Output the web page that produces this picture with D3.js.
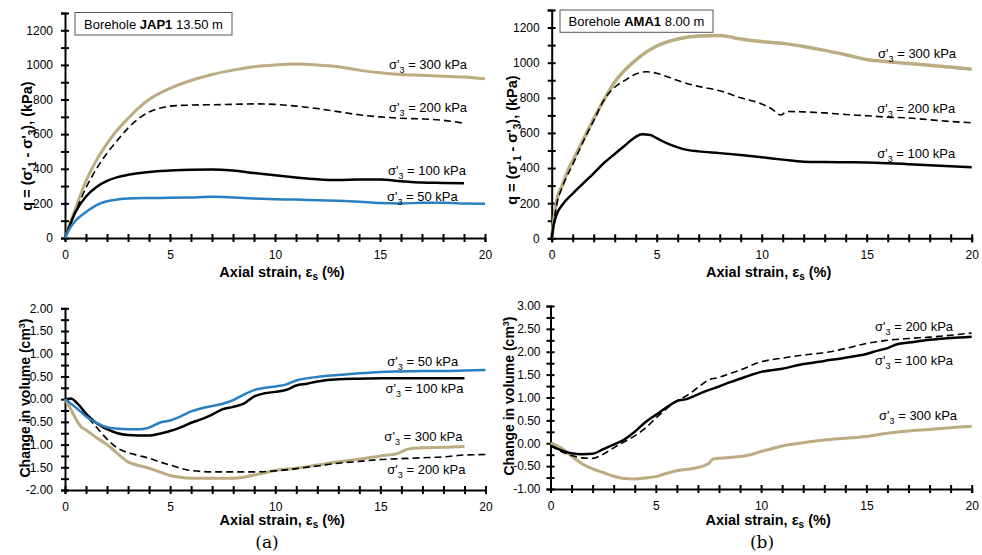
<!DOCTYPE html>
<meta charset="utf-8">
<style>
body { margin: 0; background: #fff; }
svg { font-family: "Liberation Sans", Arial, sans-serif; }
.axis path, .axis line { stroke: #000; stroke-width: 2; fill: none; }
.axis text { font-size: 12px; fill: #000; }
.ann { font-size: 13px; fill: #000; }
.title { font-size: 14.5px; font-weight: bold; fill: #000; }
</style>
<body>
<script src="https://d3js.org/d3.v7.min.js"></script>
<script>

var width = 982, height = 555;
var tan = '#bbac82', blue = '#2a7fc0';

// strain (%) vs deviator stress q (kPa), borehole JAP1
var jap1Q300 = [[0,0],[0.5,170],[1,330],[1.5,450],[2,545],[2.5,625],[3,690],[3.5,750],[4,800],[5,865],[6,910],[7,945],[8,970],[9,990],[10,1000],[11,1005],[12,1000],[13,990],[14,970],[15,955],[16,945],[17,940],[18,935],[19,930],[20,920]];
var jap1Q200 = [[0,0],[0.5,150],[1,290],[1.5,400],[2,490],[2.5,565],[3,635],[3.5,690],[4,728],[4.5,750],[5,762],[6,768],[7,770],[8,772],[9,775],[10,772],[11,762],[12,748],[13,730],[14,712],[15,700],[16,692],[17,688],[18,680],[19,663]];
var jap1Q100 = [[0,0],[0.25,80],[0.5,150],[1,240],[1.5,295],[2,330],[2.5,352],[3,365],[4,382],[5,390],[6,395],[7,396],[8,390],[9,375],[10,362],[11,350],[12,340],[13,335],[14,338],[15,338],[16,328],[17,320],[18,318],[19,316]];
var jap1Q50 = [[0,0],[0.25,60],[0.5,100],[1,150],[1.5,190],[2,212],[2.5,222],[3,228],[4,231],[5,232],[6,234],[7,238],[8,234],[9,228],[10,224],[11,222],[12,218],[13,215],[14,210],[15,202],[16,200],[17,203],[18,203],[19,200],[20,198]];

// borehole AMA1
var ama1Q300 = [[0,0],[0.25,220],[0.5,300],[0.75,380],[1,440],[1.5,560],[2,680],[2.5,790],[3,890],[3.5,960],[4,1015],[4.5,1060],[5,1095],[6,1135],[7,1152],[8,1155],[9,1135],[10,1120],[11,1110],[12,1092],[13,1070],[14,1045],[15,1018],[16,1005],[17,995],[18,985],[19,975],[20,962]];
var ama1Q200 = [[0,0],[0.25,200],[0.5,290],[1,420],[1.5,550],[2,670],[2.5,790],[3,860],[3.5,900],[4,935],[4.5,948],[5,940],[5.5,920],[6,898],[7,865],[8,840],[9,800],[10,765],[10.5,735],[10.9,702],[11.2,722],[12,720],[13,714],[14,705],[15,698],[16,690],[17,685],[18,675],[19,665],[20,658]];
var ama1Q100 = [[0,0],[0.1,80],[0.25,140],[0.5,190],[1,255],[1.5,313],[2,370],[2.5,430],[3,480],[3.5,530],[4,578],[4.3,592],[4.7,588],[5,570],[5.5,540],[6,518],[6.5,502],[7,495],[8,485],[9,474],[10,462],[11,448],[12,436],[13,434],[14,433],[15,432],[16,428],[17,422],[18,416],[19,410],[20,404]];

// strain (%) vs change in volume (cm3)
var jap1V50 = [[0,0],[0.5,-0.18],[1,-0.38],[1.5,-0.52],[2,-0.62],[2.5,-0.65],[3,-0.66],[3.5,-0.66],[3.9,-0.64],[4.5,-0.52],[5,-0.47],[5.5,-0.38],[6,-0.27],[6.5,-0.2],[7,-0.15],[7.5,-0.1],[8,-0.02],[8.5,0.1],[9,0.2],[9.5,0.25],[10,0.28],[10.5,0.32],[11,0.41],[12,0.49],[13,0.53],[14,0.57],[15,0.6],[16,0.61],[17,0.62],[18,0.62],[19,0.63],[20,0.64]];
var jap1V100 = [[0,0],[0.3,0.01],[0.6,-0.1],[1,-0.32],[1.5,-0.53],[2,-0.66],[2.5,-0.75],[3,-0.79],[3.5,-0.8],[4,-0.8],[4.5,-0.76],[5,-0.7],[5.5,-0.62],[6,-0.52],[6.5,-0.44],[7,-0.34],[7.5,-0.22],[8,-0.17],[8.5,-0.1],[9,0.06],[9.5,0.13],[10,0.16],[10.5,0.2],[11,0.3],[11.5,0.34],[12,0.39],[13,0.44],[14,0.45],[15,0.46],[16,0.46],[17,0.46],[18,0.46],[19,0.46]];
var jap1V200 = [[0,0],[0.3,0.02],[0.6,-0.1],[1,-0.35],[1.5,-0.62],[2,-0.88],[2.5,-1.08],[3,-1.18],[3.5,-1.24],[4,-1.3],[4.5,-1.38],[5,-1.45],[5.5,-1.52],[6,-1.57],[7,-1.6],[8,-1.6],[9,-1.6],[10,-1.58],[11,-1.53],[12,-1.47],[13,-1.41],[14,-1.37],[15,-1.33],[16,-1.31],[17,-1.29],[18,-1.27],[19,-1.23],[20,-1.22]];
var jap1V300 = [[0,0],[0.25,-0.2],[0.5,-0.42],[0.75,-0.6],[1,-0.68],[1.5,-0.85],[2,-1.0],[2.5,-1.2],[3,-1.38],[3.5,-1.46],[4,-1.52],[4.5,-1.6],[5,-1.68],[5.5,-1.72],[6,-1.74],[7,-1.74],[8,-1.74],[8.5,-1.72],[9,-1.67],[9.5,-1.62],[10,-1.57],[11,-1.52],[12,-1.45],[13,-1.38],[14,-1.32],[15,-1.25],[15.8,-1.2],[16.3,-1.1],[17,-1.07],[18,-1.06],[19,-1.04]];

var ama1V100 = [[0,-0.05],[0.5,-0.15],[1,-0.22],[1.5,-0.24],[2,-0.23],[2.5,-0.13],[3,-0.03],[3.5,0.08],[4,0.25],[4.5,0.46],[5,0.62],[5.5,0.78],[6,0.92],[6.5,0.97],[7,1.07],[7.5,1.16],[8,1.24],[8.5,1.33],[9,1.41],[9.5,1.49],[10,1.56],[11,1.63],[12,1.73],[13,1.8],[14,1.87],[15,1.95],[15.5,2.02],[16,2.08],[16.5,2.17],[17,2.2],[18,2.26],[19,2.3],[20,2.33]];
var ama1V200 = [[0,-0.05],[0.5,-0.18],[1,-0.27],[1.5,-0.32],[2,-0.33],[2.5,-0.24],[3,-0.1],[3.5,0.03],[4,0.16],[4.5,0.33],[5,0.55],[5.5,0.75],[6,0.93],[6.5,1.05],[7,1.22],[7.5,1.38],[8,1.44],[8.5,1.52],[9,1.6],[10,1.78],[11,1.86],[12,1.93],[13,1.98],[14,2.07],[15,2.18],[16,2.25],[17,2.29],[18,2.32],[19,2.36],[20,2.41]];
var ama1V300 = [[0,0],[0.5,-0.1],[1,-0.28],[1.5,-0.45],[2,-0.56],[2.5,-0.64],[3,-0.72],[3.5,-0.77],[4,-0.78],[4.5,-0.76],[5,-0.73],[5.5,-0.66],[6,-0.6],[6.5,-0.57],[7,-0.53],[7.5,-0.45],[7.7,-0.35],[8,-0.33],[9,-0.29],[9.5,-0.25],[10,-0.18],[10.5,-0.12],[11,-0.06],[12,0.01],[13,0.07],[14,0.11],[15,0.15],[16,0.22],[17,0.27],[18,0.3],[19,0.34],[20,0.37]];

var xTicks = d3.range(0, 21, 1);
var qTicks = d3.range(0, 1301, 100);
var volTicksA = d3.range(-2, 2.001, 0.25);
var volTicksB = d3.range(-1, 3.001, 0.25);

var svg = d3.select('body').append('svg')
  .attr('width', width)
  .attr('height', height);

function sigmaLabel(g, x, y, kpa) {
  var t = g.append('text').attr('class', 'ann').attr('x', x).attr('y', y);
  t.append('tspan').text("σ'");
  t.append('tspan').attr('dy', 4).style('font-size', '9px').text('3');
  t.append('tspan').attr('dy', -4).text(' = ' + kpa + ' kPa');
}

function panel(cfg) {
  var x = d3.scaleLinear().domain([0, 20]).range(cfg.xr);
  var y = d3.scaleLinear().domain(cfg.yd).range(cfg.yr);
  var g = svg.append('g');

  var xAxis = d3.axisBottom(x).tickValues(xTicks).tickSizeOuter(0)
    .tickSize(4).tickPadding(8)
    .tickFormat(d => d % 5 === 0 ? d : '');
  var gx = g.append('g').attr('class', 'axis')
    .attr('transform', 'translate(0,' + cfg.yr[0] + ')')
    .call(xAxis);
  gx.selectAll('.tick line').attr('y1', -4).attr('y2', 4);

  var yAxis = d3.axisLeft(y).tickValues(cfg.yTicks).tickSizeOuter(0)
    .tickSize(4).tickPadding(cfg.yPad)
    .tickFormat(cfg.yFmt);
  var gy = g.append('g').attr('class', 'axis')
    .attr('transform', 'translate(' + cfg.xr[0] + ',0)')
    .call(yAxis);
  gy.selectAll('.tick line').attr('x1', -4).attr('x2', 4);
  g.selectAll('.axis text').attr('font-family', '"Liberation Sans", Arial, sans-serif');

  var line = d3.line().x(d => x(d[0])).y(d => y(d[1])).curve(d3.curveMonotoneX);
  cfg.series.forEach(s => {
    g.append('path').datum(s.data)
      .attr('d', line)
      .attr('fill', 'none')
      .attr('stroke', s.color)
      .attr('stroke-width', s.w)
      .attr('stroke-dasharray', s.dash || null)
      .attr('stroke-linejoin', 'round');
  });

  cfg.labels.forEach(l => sigmaLabel(g, x(l[0]), y(l[1]), l[2]));

  // x title
  var xt = g.append('text').attr('class', 'title')
    .attr('x', (cfg.xr[0] + cfg.xr[1]) / 2 + 7).attr('y', cfg.yr[0] + cfg.xtOff)
    .attr('text-anchor', 'middle');
  xt.append('tspan').text('Axial strain, ε');
  xt.append('tspan').attr('dy', 3).style('font-size', '10px').text('s');
  xt.append('tspan').attr('dy', -3).text(' (%)');

  // y title
  var yt = g.append('text').attr('class', 'title')
    .style('font-size', cfg.ytSize)
    .attr('transform', 'translate(' + cfg.ytX + ',' + cfg.ytY + ') rotate(-90)')
    .attr('text-anchor', 'middle');
  cfg.yTitle(yt);

  if (cfg.box) {
    g.append('rect').attr('x', cfg.box.x).attr('y', cfg.box.y)
      .attr('width', cfg.box.w).attr('height', cfg.box.h)
      .attr('fill', '#fff').attr('stroke', '#555').attr('stroke-width', 1);
    var bt = g.append('text').attr('class', 'ann')
      .attr('x', cfg.box.x + cfg.box.w / 2).attr('y', cfg.box.y + 16)
      .attr('text-anchor', 'middle');
    bt.append('tspan').text('Borehole ');
    bt.append('tspan').attr('font-weight', 'bold').text(cfg.box.name);
    bt.append('tspan').text(' ' + cfg.box.depth);
  }
}

function qTitle(t) {
  t.append('tspan').text("q = (σ'");
  t.append('tspan').attr('dy', 4).style('font-size', '10px').text('1');
  t.append('tspan').attr('dy', -4).text(" - σ'");
  t.append('tspan').attr('dy', 4).style('font-size', '10px').text('3');
  t.append('tspan').attr('dy', -4).text('),  (kPa)');
}
function volTitle(t) {
  t.append('tspan').text('Change in volume (cm');
  t.append('tspan').attr('dy', -5).style('font-size', '9px').text('3');
  t.append('tspan').attr('dy', 5).text(')');
}
var qFmt = d => d % 200 === 0 ? d : '';
var volFmt = d => Math.abs(d * 2 - Math.round(d * 2)) < 1e-6 ? d.toFixed(2) : '';

panel({
  xr: [65, 485], yd: [0, 1300], yr: [238, 13], yTicks: qTicks, yFmt: qFmt, yPad: 8,
  xtOff: 39, ytX: 32, ytY: 146, ytSize: '14.5px', yTitle: qTitle,
  box: {x: 75, y: 12.5, w: 157, h: 22.5, name: 'JAP1', depth: '13.50 m'},
  series: [
    {data: jap1Q300, color: tan, w: 3},
    {data: jap1Q200, color: '#000', w: 1.6, dash: '7,4'},
    {data: jap1Q100, color: '#000', w: 2.5},
    {data: jap1Q50, color: blue, w: 2.5}
  ],
  labels: [[15.43, 976, 300], [15.43, 726, 200], [15.38, 364, 100], [15.33, 215, 50]]
});

panel({
  xr: [551.7, 971.7], yd: [0, 1300], yr: [238.3, 10], yTicks: qTicks, yFmt: qFmt, yPad: 8,
  xtOff: 39, ytX: 517, ytY: 140, ytSize: '14.5px', yTitle: qTitle,
  box: {x: 560, y: 10, w: 153, h: 22.3, name: 'AMA1', depth: '8.00 m'},
  series: [
    {data: ama1Q300, color: tan, w: 3.5},
    {data: ama1Q200, color: '#000', w: 1.6, dash: '7,4'},
    {data: ama1Q100, color: '#000', w: 2.5}
  ],
  labels: [[15.54, 1025, 300], [15.5, 715, 200], [15.5, 456, 100]]
});

panel({
  xr: [65, 485.5], yd: [-2, 2], yr: [490, 308.3], yTicks: volTicksA, yFmt: volFmt, yPad: 8,
  xtOff: 35, ytX: 30, ytY: 398, ytSize: '14px', yTitle: volTitle,
  series: [
    {data: jap1V300, color: tan, w: 3},
    {data: jap1V200, color: '#000', w: 1.6, dash: '7,4'},
    {data: jap1V100, color: '#000', w: 2.5},
    {data: jap1V50, color: blue, w: 2.5}
  ],
  labels: [[15.33, 0.73, 50], [15.24, 0.145, 100], [15.19, -0.93, 300], [15.33, -1.65, 200]]
});

panel({
  xr: [550.5, 971.7], yd: [-1, 3], yr: [489, 306], yTicks: volTicksB, yFmt: volFmt, yPad: 6,
  xtOff: 36, ytX: 514, ytY: 396, ytSize: '14px', yTitle: volTitle,
  series: [
    {data: ama1V300, color: tan, w: 3},
    {data: ama1V200, color: '#000', w: 1.6, dash: '7,4'},
    {data: ama1V100, color: '#000', w: 2.5}
  ],
  labels: [[15.41, 2.45, 200], [15.41, 1.70, 100], [15.6, 0.51, 300]]
});

svg.append('text').attr('x', 267).attr('y', 548).attr('text-anchor', 'middle')
  .attr('font-family', '"DejaVu Serif", "Liberation Serif", serif').attr('font-size', '17px')
  .text('(a)');
svg.append('text').attr('x', 762).attr('y', 548).attr('text-anchor', 'middle')
  .attr('font-family', '"DejaVu Serif", "Liberation Serif", serif').attr('font-size', '17px')
  .text('(b)');

</script>
</body>
</html>
